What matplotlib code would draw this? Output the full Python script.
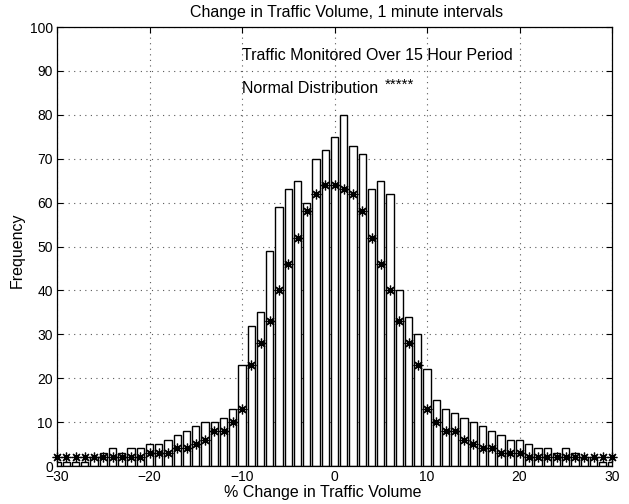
import matplotlib
matplotlib.use('Agg')
import matplotlib.pyplot as plt
import numpy as np

plt.rcParams['font.family'] = ['Liberation Sans', 'DejaVu Sans']

# % change bins (1 minute intervals)
change = np.arange(-30, 31)

# observed frequency per bin
freq = [1, 1, 1, 1, 2, 3, 4, 3, 4, 4,
        5, 5, 6, 7, 8, 9, 10, 10, 11, 13,
        23, 32, 35, 49, 59, 63, 65, 60, 70, 72,
        75,
        80, 73, 71, 63, 65, 62, 40, 34, 30, 22,
        15, 13, 12, 11, 10, 9, 8, 7, 6, 6,
        5, 4, 4, 3, 4, 3, 2, 2, 1, 1]

# normal distribution fit
normal = [2, 2, 2, 2, 2, 2, 2, 2, 2, 2,
          3, 3, 3, 4, 4, 5, 6, 8, 8, 10,
          13, 23, 28, 33, 40, 46, 52, 58, 62, 64,
          64,
          63, 62, 58, 52, 46, 40, 33, 28, 23, 13,
          10, 8, 8, 6, 5, 4, 4, 3, 3, 3,
          2, 2, 2, 2, 2, 2, 2, 2, 2, 2]

fig = plt.figure(figsize=(6.29, 5.04), dpi=100)
ax = fig.add_axes([57/629, 38/504, 555/629, 439/504])

ax.bar(change, freq, width=0.8, color='white', edgecolor='black', linewidth=1.0, zorder=2)
ax.plot(change, normal, linestyle='none', marker=(8, 2, 0), markersize=7,
        color='black', markeredgewidth=0.9, zorder=4, clip_on=False)

ax.set_xlim(-30, 30)
ax.set_ylim(0, 100)
ax.set_xticks(range(-30, 31, 10))
ax.set_yticks(range(0, 101, 10))
ax.grid(True, linestyle=(0, (1, 4)), color='0.35', linewidth=0.8, zorder=3)
ax.tick_params(direction='in', top=True, right=True, length=4, labelsize=10, pad=3)
for s in ax.spines.values():
    s.set_linewidth(0.9)

ax.text(-10, 93.5, 'Traffic Monitored Over 15 Hour Period', fontsize=11.5, va='center')
ax.text(-10, 86, 'Normal Distribution', fontsize=11.5, va='center')
ax.text(5.4, 86.8, '*****', fontsize=11, va='center')

fig.text(347/629, 1 - 12/504, 'Change in Traffic Volume, 1 minute intervals',
         fontsize=11.5, ha='center', va='center')
fig.text(323/629, 1 - 493/504, '% Change in Traffic Volume', fontsize=11.5, ha='center', va='center')
fig.text(17/629, 1 - 250/504, 'Frequency', fontsize=11.5, rotation=90, ha='center', va='center')

fig.savefig('out.png', dpi=100)
